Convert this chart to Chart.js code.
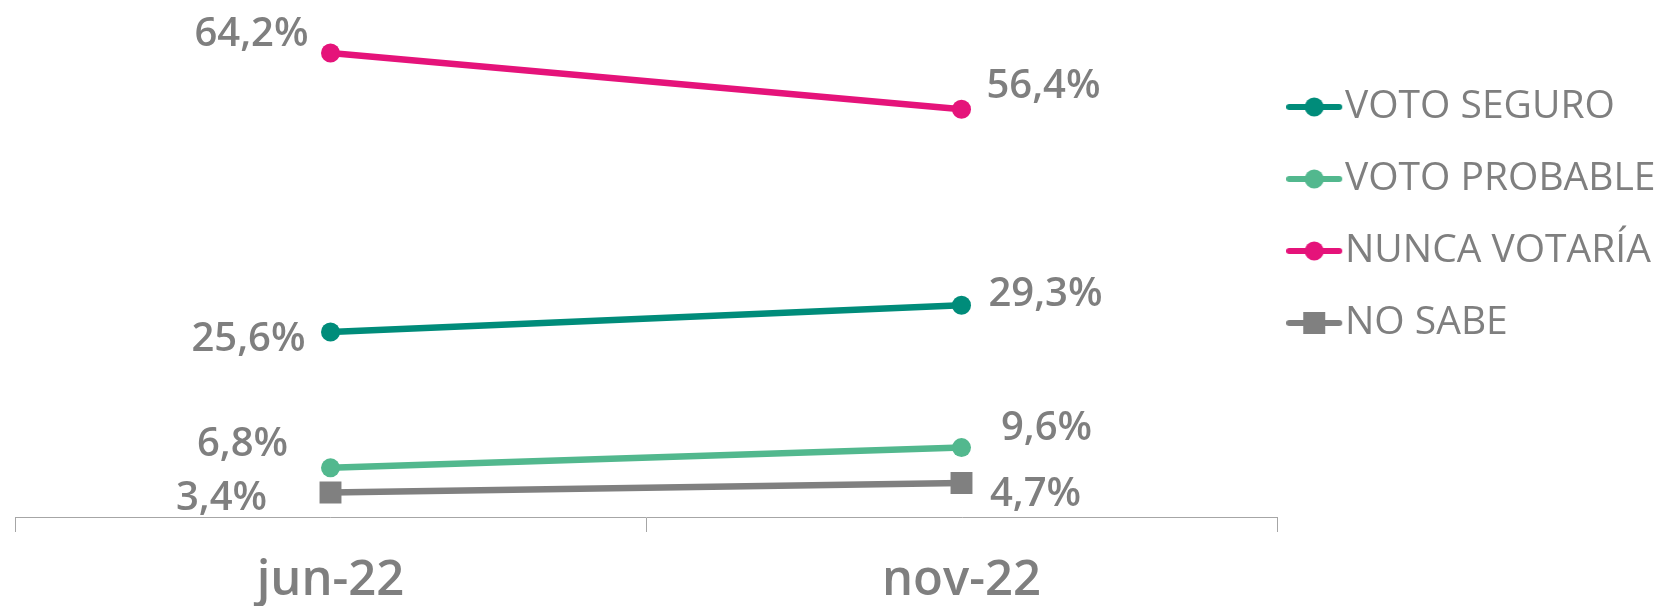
<!DOCTYPE html>
<html>
<head>
<meta charset="utf-8">
<script src="https://cdn.jsdelivr.net/npm/chart.js@4/dist/chart.umd.min.js"></script>
<style>
    html, body { margin: 0; padding: 0; background: #fff; }
    #wrap { width: 1663px; height: 606px; }
</style>
</head>
<body>
<div id="wrap"><canvas id="grafic-voto"></canvas></div>
<script>
// data
const periods = ['jun-22', 'nov-22'];
const seriesNames = ['VOTO SEGURO', 'VOTO PROBABLE', 'NUNCA VOTARÍA', 'NO SABE'];
const votoSeguro = [25.6, 29.3];
const votoProbable = [6.8, 9.6];
const nuncaVotaria = [64.2, 56.4];
const noSabe = [3.4, 4.7];

const colors = ['#008C7A', '#52B88E', '#E5137A', '#808080'];
const textGray = '#7F7F7F';
const fontName = '"Open Sans", Roboto, sans-serif';

// where each value label sits relative to its point
const labelShift = [
    [[-82, 8], [84, -11]],
    [[-88, -23], [85, -19]],
    [[-79, -18], [82, -23]],
    [[-109, 6], [74, 12]]
];

/* legend marker: line with point */
function legendMarker(color, square) {
    const c = document.createElement('canvas');
    c.width = 63;
    c.height = 24;
    const ctx = c.getContext('2d');
    ctx.strokeStyle = color;
    ctx.lineWidth = 6;
    ctx.lineCap = 'round';
    ctx.beginPath();
    ctx.moveTo(3, 12);
    ctx.lineTo(53, 12);
    ctx.stroke();
    ctx.fillStyle = color;
    if (square) {
        ctx.fillRect(28 - 11, 1, 22, 22);
    } else {
        ctx.beginPath();
        ctx.arc(28, 12, 9.5, 0, Math.PI * 2);
        ctx.fill();
    }
    return c;
}

const valueLabels = {
    id: 'valueLabels',
    afterDatasetsDraw(chart) {
        const ctx = chart.ctx;
        ctx.save();
        ctx.font = '600 40px ' + fontName;
        ctx.fillStyle = textGray;
        ctx.textAlign = 'center';
        ctx.textBaseline = 'middle';
        chart.data.datasets.forEach((ds, d) => {
            chart.getDatasetMeta(d).data.forEach((pt, i) => {
                const txt = ds.data[i].toFixed(1).replace('.', ',') + '%';
                ctx.fillText(txt, pt.x + labelShift[d][i][0], pt.y + labelShift[d][i][1]);
            });
        });
        ctx.restore();
    }
};

function makeDataset(idx, values, square) {
    return {
        label: seriesNames[idx],
        data: values,
        borderColor: colors[idx],
        backgroundColor: colors[idx],
        borderWidth: 6.5,
        pointStyle: square ? 'rect' : 'circle',
        pointRadius: square ? 15.5 : 9.5,
        pointBorderWidth: 0,
        tension: 0,
        legendMarker: legendMarker(colors[idx], square)
    };
}

const ctx = document.getElementById('grafic-voto').getContext('2d');
const chart = new Chart(ctx, {
    type: 'line',
    data: {
        labels: periods,
        datasets: [
            makeDataset(0, votoSeguro, false),
            makeDataset(1, votoProbable, false),
            makeDataset(2, nuncaVotaria, false),
            makeDataset(3, noSabe, true)
        ]
    },
    options: {
        responsive: true,
        maintainAspectRatio: false,
        animation: false,
        layout: {
            autoPadding: false,
            padding: { top: 11, left: 15, right: 0, bottom: 0 }
        },
        scales: {
            x: {
                offset: true,
                afterFit(scale) {
                    scale.height = 89;
                },
                grid: {
                    offset: true,
                    drawOnChartArea: false,
                    drawTicks: true,
                    tickLength: 15,
                    color: '#A6A6A6',
                    lineWidth: 1
                },
                border: { display: true, color: '#A6A6A6', width: 1 },
                ticks: {
                    color: textGray,
                    padding: 25,
                    font: { family: fontName, size: 49, weight: '600', lineHeight: 1 }
                }
            },
            y: {
                display: false,
                min: 0,
                max: 70
            }
        },
        plugins: {
            tooltip: { enabled: false },
            title: { display: false },
            legend: {
                position: 'right',
                align: 'start',
                maxWidth: 386,
                title: {
                    display: true,
                    text: ' ',
                    font: { size: 1, lineHeight: 1 },
                    padding: { top: 42.5, bottom: 0 }
                },
                labels: {
                    usePointStyle: true,
                    boxWidth: 15.5,
                    padding: 33,
                    color: textGray,
                    font: { family: fontName, size: 39, lineHeight: 1 },
                    generateLabels(chart) {
                        return chart.data.datasets.map((ds, i) => ({
                            text: ds.label,
                            pointStyle: ds.legendMarker,
                            fillStyle: ds.backgroundColor,
                            strokeStyle: ds.borderColor,
                            lineWidth: 0,
                            fontColor: textGray,
                            hidden: false,
                            datasetIndex: i
                        }));
                    }
                }
            }
        }
    },
    plugins: [valueLabels]
});
</script>
</body>
</html>
